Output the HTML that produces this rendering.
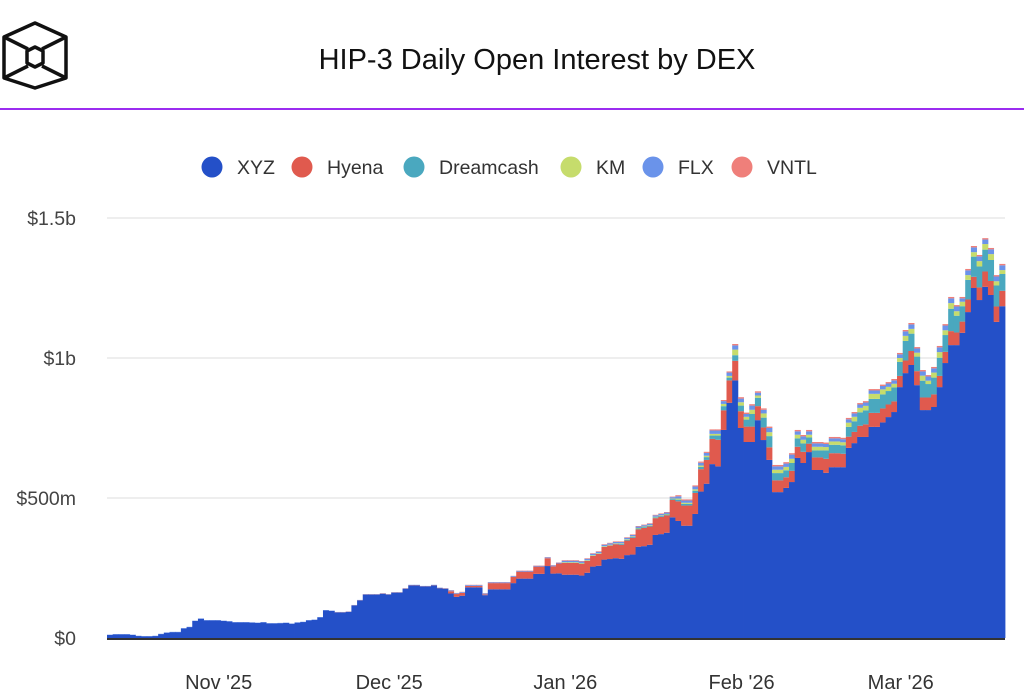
<!DOCTYPE html>
<html><head><meta charset="utf-8">
<style>
body{margin:0;width:1024px;height:690px;background:#fff;overflow:hidden;font-family:"Liberation Sans",sans-serif;}
svg{display:block}
</style></head>
<body>
<svg id="chart" width="1024" height="690">
  <g fill="none" stroke="#111" stroke-width="3.5" stroke-linejoin="round">
    <polygon points="35,23 66,37 66,78 35,88 4,78 4,37"/>
    <line x1="4" y1="37" x2="28" y2="49"/><line x1="66" y1="37" x2="42" y2="49"/>
    <line x1="4" y1="78" x2="28" y2="66"/><line x1="66" y1="78" x2="42" y2="66"/>
    <polygon points="35,47 43,51 43,63 35,67 27,63 27,51"/>
  </g>
  <text x="537" y="69" text-anchor="middle" font-size="29" fill="#111">HIP-3 Daily Open Interest by DEX</text>
  <rect x="0" y="108" width="1024" height="2" fill="#9b2cf0"/>
  <g id="legend"></g>
  <g id="grid"></g>
  <g id="bars"></g>
  <g id="yaxis"></g>
  <g id="xaxis"></g>
</svg>
<script>
const seriesNames=["XYZ","Hyena","Dreamcash","KM","FLX","VNTL"];
const seriesColors=["#2450c8","#e05a4e","#4aa8bf","#c6dc6c","#6a93ea","#ef7f7a"];
const xyz=[11,13,13,13,11,7,6,6,7,14,19,21,21,34,39,61,69,63,63,63,61,59,56,56,56,55,54,56,52,52,53,54,51,55,57,63,65,74,99,97,91,91,93,116,134,155,155,155,158,155,162,162,176,188,188,184,184,188,178,176,159,147,151,181,181,181,153,174,174,174,174,196,212,212,212,229,229,257,230,231,226,226,226,223,233,255,258,280,282,285,283,296,298,326,328,333,368,371,376,431,418,401,401,443,523,551,621,613,743,840,920,750,700,700,778,707,636,521,521,536,557,643,625,664,600,600,590,610,610,610,679,696,718,718,754,754,770,789,807,896,946,975,903,814,814,825,896,982,1046,1046,1090,1164,1250,1207,1254,1225,1129,1185];
const hyena=[0,0,0,0,0,0,0,0,0,0,0,0,0,0,0,0,0,0,0,0,0,0,0,0,0,0,0,0,0,0,0,0,0,0,0,0,0,0,0,0,1,1,1,1,1,1,1,1,1,1,1,1,1,1,1,1,1,1,1,1,8,10,10,5,5,5,3,22,22,22,22,22,25,25,25,26,26,28,26,35,42,42,42,42,42,38,42,45,48,50,50,52,60,62,65,65,60,62,62,62,70,72,72,75,80,85,90,95,70,80,70,60,55,55,50,45,45,42,42,38,40,40,40,30,45,45,50,50,50,48,40,40,40,45,50,50,50,45,38,40,45,50,50,45,45,45,40,40,50,45,40,45,40,45,55,50,55,55];
const dreamcash=[0,0,0,0,0,0,0,0,0,0,0,0,0,0,0,0,0,0,0,0,0,0,0,0,0,0,0,0,0,0,0,0,0,0,0,0,0,0,0,0,0,0,0,0,0,0,0,0,0,0,0,0,0,0,0,0,0,0,0,0,0,0,0,0,0,0,0,0,0,0,0,0,0,0,0,0,0,0,0,0,1,1,1,1,1,1,1,1,1,1,3,3,3,3,3,3,3,3,3,3,6,6,6,8,8,10,12,15,15,10,20,20,25,45,30,35,40,26,26,25,28,30,30,22,25,25,30,30,30,30,35,38,48,50,50,50,50,48,50,50,70,62,52,60,48,60,65,60,80,60,55,70,72,75,78,75,75,60];
const km=[0,0,0,0,0,0,0,0,0,0,0,0,0,0,0,0,0,0,0,0,0,0,0,0,0,0,0,0,0,0,0,0,0,0,0,0,0,0,0,0,0,0,0,0,0,0,0,0,0,0,0,0,0,0,0,0,0,0,0,0,0,0,0,0,0,0,0,0,0,0,0,0,0,0,0,0,0,0,0,0,2,2,2,2,2,2,2,2,2,2,2,2,2,2,2,2,2,2,2,2,4,4,4,5,5,5,6,6,8,6,20,12,10,15,8,15,14,12,12,12,15,13,13,10,13,13,12,12,12,11,15,16,16,16,18,18,18,15,13,14,18,17,14,18,12,18,20,17,20,16,16,17,16,19,20,21,15,14];
const flx=[1,1,1,1,1,1,1,1,1,1,1,1,1,1,1,1,1,1,1,1,1,1,1,1,1,1,1,1,1,1,1,1,1,1,1,1,1,1,1,1,1,1,1,1,1,1,1,1,1,1,1,1,1,1,1,1,1,1,1,1,3,3,3,3,3,3,3,3,3,3,3,3,3,3,3,3,3,3,3,3,5,5,5,5,5,5,5,5,5,5,5,5,5,5,5,5,5,5,5,5,8,8,8,10,10,10,12,12,10,12,15,13,10,15,10,13,15,12,12,12,15,12,12,12,12,12,11,11,11,11,12,12,12,12,12,12,12,12,12,13,16,16,15,15,15,15,17,17,17,17,12,17,17,17,16,17,17,17];
const vntl=[0,0,0,0,0,0,0,0,0,0,0,0,0,0,0,0,0,0,0,0,0,0,0,0,0,0,0,0,0,0,0,0,0,0,0,0,0,0,0,0,0,0,0,0,0,0,0,0,0,0,0,0,0,0,0,0,0,0,0,0,1,1,1,1,1,1,1,1,1,1,1,1,1,1,1,1,1,1,1,1,2,2,2,2,2,2,2,2,2,2,2,2,2,2,2,2,2,2,2,2,4,4,4,4,4,4,4,4,4,4,5,5,5,5,5,5,5,5,5,5,5,5,5,5,5,5,5,5,5,5,5,5,5,5,5,5,5,5,5,5,5,5,5,5,5,5,5,5,5,5,5,5,5,5,5,5,5,5];
const yTicks=[0,500,1000,1500];
const yTickLabels=["$0","$500m","$1b","$1.5b"];
const xTickDays=[20,50,81,112,140];
const xTickLabels=["Nov '25","Dec '25","Jan '26","Feb '26","Mar '26"];

const NS="http://www.w3.org/2000/svg";
const X0=107,X1=1005,Y0=638,Y1=218,VMAX=1500;
const nDays=xyz.length;
const bw=(X1-X0)/nDays;
const xs=d=>X0+d*bw;
const ys=v=>Y0-(v/VMAX)*(Y0-Y1);
function mk(tag,attrs,parent){const e=document.createElementNS(NS,tag);for(const k in attrs)e.setAttribute(k,attrs[k]);parent.appendChild(e);return e;}

const grid=document.getElementById('grid'),yax=document.getElementById('yaxis');
yTicks.forEach((v,i)=>{
  if(v>0){const l=mk('line',{x1:X0,x2:X1,y1:ys(v),y2:ys(v),stroke:'#e8e8e8','stroke-width':1.5},grid);
  
  }
  const t=mk('text',{x:76,y:ys(v)+7,'text-anchor':'end','font-size':19.5,fill:'#444'},yax);
  t.textContent=yTickLabels[i];
  
  
});

const series=[xyz,hyena,dreamcash,km,flx,vntl];
const bars=document.getElementById('bars');
for(let d=0;d<nDays;d++){
  let base=0;
  series.forEach((s,si)=>{
    const v=s[d]; if(!v) return;
    const r=mk('rect',{x:xs(d),y:ys(base+v),width:bw+0.4,height:ys(base)-ys(base+v),fill:seriesColors[si]},bars);
    
    
    base+=v;
  });
}
const axl=mk('line',{x1:X0,x2:X1,y1:Y0+1,y2:Y0+1,stroke:'#333','stroke-width':2},document.getElementById('xaxis'));


xTickDays.forEach((d,i)=>{
  const t=mk('text',{x:xs(d)-2,y:689,'text-anchor':'middle','font-size':20,fill:'#333'},document.getElementById('xaxis'));
  t.textContent=xTickLabels[i];
  
  
});

const leg=document.getElementById('legend');
const legX=[212,302,414,571,653,742];
seriesNames.forEach((n,i)=>{
  const g=mk('g',{},leg);
  
  
  mk('circle',{cx:legX[i],cy:167,r:10.5,fill:seriesColors[i]},g);
  const t=mk('text',{x:legX[i]+25,y:174,'font-size':19.5,fill:'#333'},g);
  t.textContent=n;
});
</script>
</body></html>
